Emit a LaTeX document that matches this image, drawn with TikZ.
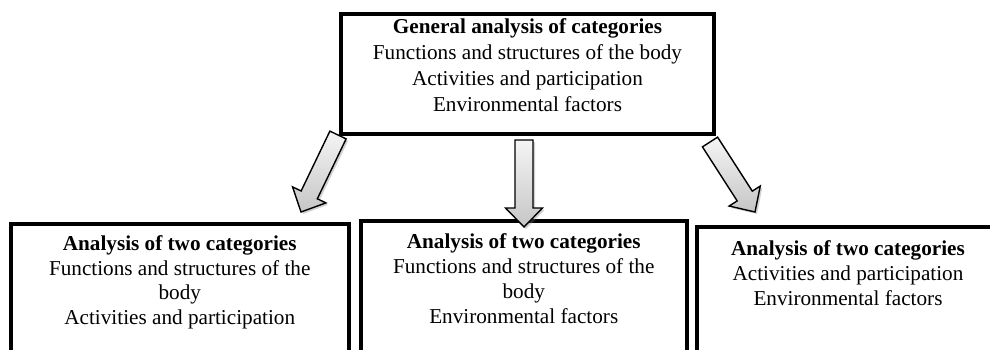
\documentclass[tikz,border=0pt]{standalone}
\usepackage{fontspec}
\setmainfont{Liberation Serif}
\usetikzlibrary{calc,positioning,shadows}
\tikzset{
    frame/.style={draw, line width=2pt, inner sep=0pt, anchor=north west, minimum height=200pt},
    boxtext/.style={align=center, inner sep=0pt, font=\fontsize{10.6}{12.4}\selectfont},
    fatarrow/.style={draw=black, line width=0.7pt, line join=miter, top color=gray!8, bottom color=gray!45,
        drop shadow={opacity=0.35, shadow xshift=1pt, shadow yshift=-1pt}}
}
\newcommand{\blockarrow}[2]{%
    \coordinate (#1head) at ($(#2)!9.5pt!(#1)$);
    \path[fatarrow] ($(#1)!4.5pt!90:(#2)$) -- ($(#1head)!4.5pt!90:(#2)$) -- ($(#1head)!9.25pt!90:(#2)$)
        -- (#2) -- ($(#1head)!9.25pt!-90:(#2)$) -- ($(#1head)!4.5pt!-90:(#2)$) -- ($(#1)!4.5pt!-90:(#2)$) -- cycle;
}
\begin{document}
\begin{tikzpicture}[x=0.5pt, y=-0.5pt]
    \useasboundingbox (0,0) rectangle (990,349);
    \fill[white] (0,0) rectangle (990,349);
    \clip (0,0) rectangle (990,349);

    % frames
    \node[frame, minimum width=186.5pt, minimum height=60pt] (gen) at (339,12) {};
    \node[frame, minimum width=168.75pt] (twoA) at (9,221.5) {};
    \node[frame, minimum width=162.75pt] (twoB) at (359,218.5) {};
    \node[frame, minimum width=151.5pt] (twoC) at (694.5,225) {};

    % texts
    \node[boxtext, font=\fontsize{10.6}{13}\selectfont, below=3pt of gen.north] (genText) {\textbf{General analysis of categories}\\
        Functions and structures of the body\\Activities and participation\\Environmental factors};
    \node[boxtext, below=6.75pt of twoA.north] (twoAText) {\textbf{Analysis of two categories}\\
        Functions and structures of the\\body\\Activities and participation};
    \node[boxtext, below=7.5pt of twoB.north] (twoBText) {\textbf{Analysis of two categories}\\
        Functions and structures of the\\body\\Environmental factors};
    \node[boxtext, below=7.75pt of twoC.north] (twoCText) {\textbf{Analysis of two categories}\\
        Activities and participation\\Environmental factors};

    % arrows
    \coordinate (tailL) at (338,135);
    \coordinate (tipL) at (301,212);
    \coordinate (tailM) at (524,140);
    \coordinate (tipM) at (524,227);
    \coordinate (tailR) at (710,142);
    \coordinate (tipR) at (755,212);
    \blockarrow{tailL}{tipL}
    \blockarrow{tailM}{tipM}
    \blockarrow{tailR}{tipR}
\end{tikzpicture}
\end{document}
